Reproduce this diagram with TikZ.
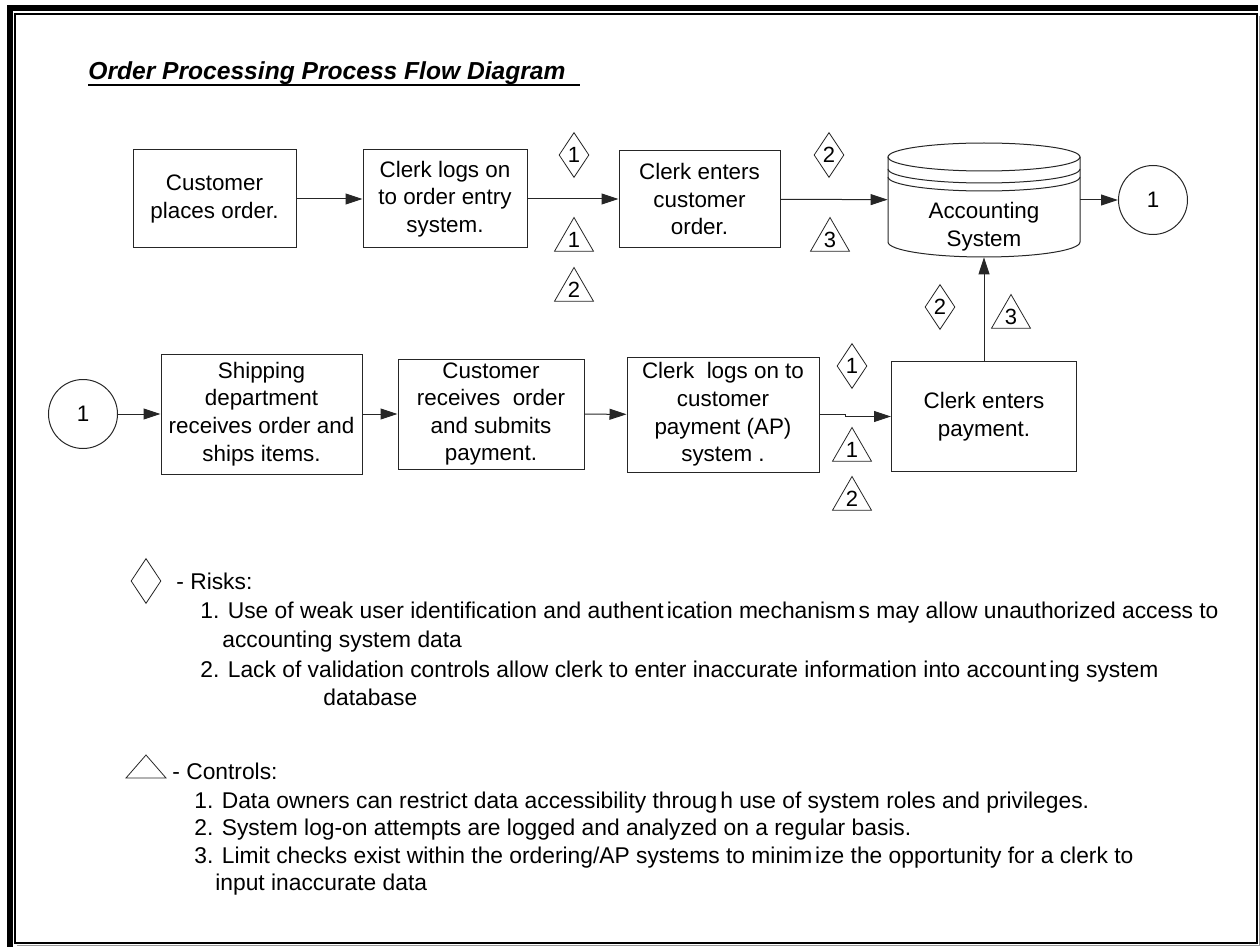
\documentclass[tikz,border=0pt]{standalone}
\usepackage{fontspec}
\setmainfont{Liberation Sans}
\usetikzlibrary{arrows.meta,positioning,shapes.geometric}

\newcommand{\wgap}{\kern1.5pt}

\tikzset{
  procbox/.style={draw=black!85, line width=0.5pt, align=center, inner sep=1pt,
    font=\fontsize{11.2}{13.8}\selectfont},
  link/.style={draw=black!85, line width=0.5pt, -{Triangle[length=8.5pt,width=5.5pt]}},
  risk/.style={draw=black!85, diamond, line width=0.4pt, inner sep=0pt,
    minimum width=15pt, minimum height=22.5pt, font=\fontsize{11}{13}\selectfont},
  ctrl/.style={draw=black!85, regular polygon, regular polygon sides=3, line width=0.4pt,
    inner sep=0pt, minimum size=22.5pt, font=\fontsize{11}{13}\selectfont},
  conn/.style={draw=black!85, circle, line width=0.5pt, minimum size=34.5pt,
    font=\fontsize{11.2}{13}\selectfont},
  legend/.style={anchor=base west, inner sep=0pt, font=\fontsize{11.4}{13.5}\selectfont},
}

\begin{document}
\begin{tikzpicture}[x=0.5pt, y=-0.5pt]
\useasboundingbox (0,0) rectangle (1260,947);

% frame
\fill (7,5) rectangle (13,947);
\fill (7,5) rectangle (1258,11);
\draw[line width=0.6pt] (15,14) rectangle (1257,943);
\draw[black!40, line width=0.8pt] (17,945.5) -- (1259.5,945.5) -- (1259.5,16);

% title
\node[anchor=base west, inner sep=0pt, font=\fontsize{12.3}{14}\selectfont\bfseries\itshape]
  (title) at (88,80) {Order Processing Process Flow Diagram};
\draw[line width=0.7pt] (88,85) -- (580,85);

% upper row
\node[procbox, minimum width=81.5pt, minimum height=49pt] (b1) at (214.5,199) {Customer\\places order.};
\node[procbox, minimum width=82pt, minimum height=49pt] (b2) at (445,199) {Clerk logs on\\to order entry\\system.};
\node[procbox, minimum width=80.5pt, minimum height=48.5pt] (b3) at (699.5,199) {Clerk enters\\customer\\order.};
\node[minimum width=96pt, minimum height=57pt, inner sep=0pt] (acc) at (984,200) {};
\draw[black!85, line width=0.5pt] (984,157) ellipse [x radius=48pt, y radius=7pt];
\draw[black!85, line width=0.5pt] (888,169) arc[start angle=180, end angle=360, x radius=48pt, y radius=7pt];
\draw[black!85, line width=0.5pt] (888,177) arc[start angle=180, end angle=360, x radius=48pt, y radius=7pt];
\draw[black!85, line width=0.5pt] (888,157) -- (888,242)
  arc[start angle=180, end angle=360, x radius=48pt, y radius=7.5pt] -- (1080,157);
\node[font=\fontsize{11.2}{13.8}\selectfont, align=center] (acclabel) at (984,227) {Accounting\\System};
\node[conn] (c1) at (1153,200) {1};

\draw[link] (b1) -- (b2);
\draw[link] (b2) -- (b3);
\draw[link] (b3) -- (acc);
\draw[link] (acc) -- (c1);

\node[risk] (rk1a) at (574,155) {1};
\node[ctrl] (ct1a) at (574,240) {1};
\node[ctrl] (ct2a) at (574,290) {2};
\node[risk] (rk2a) at (829,155) {2};
\node[ctrl] (ct3a) at (830,240) {3};

% lower row
\node[conn] (c2) at (83,414) {1};
\node[procbox, minimum width=100.5pt, minimum height=60pt] (b4) at (261.5,414) {Shipping\\department\\receives order and\\ships items.};
\node[procbox, minimum width=93pt, minimum height=55pt] (b5) at (491,414) {Customer\\receives\ \ order\\and submits\\payment.};
\node[procbox, minimum width=96pt, minimum height=57.5pt] (b6) at (723,414.5) {Clerk\ \ logs on to\\customer\\payment (AP)\\system .};
\node[procbox, minimum width=92.5pt, minimum height=55pt] (b7) at (984,416.5) {Clerk enters\\payment.};

\draw[link] (c2) -- (b4);
\draw[link] (b4) -- (b5);
\draw[link] (b5) -- (b6);
\draw[link] (b6.east) -- ++(26,0) |- (b7.west);
\draw[link] (b7) -- (acc);

\node[risk] (rk1b) at (852,366) {1};
\node[ctrl] (ct1b) at (852,450) {1};
\node[ctrl] (ct2b) at (852,499) {2};
\node[risk] (rk2b) at (940,307) {2};
\node[ctrl] (ct3b) at (1011,317) {3};

% key
\node[risk] (rkkey) at (146,581) {};
\node[legend] (risks) at (176,589) {- Risks:};
\node[legend] (r1) at (200,618) {1. Use of weak user identification and authent\wgap ication mechanism\wgap s may allow unauthorized access to};
\node[legend] (r1b) at (222,647) {accounting system data};
\node[legend] (r2) at (200,677) {2. Lack of validation controls allow clerk to enter inaccurate information into account\wgap ing system};
\node[legend] (r2b) at (323,705) {database};

\draw[black!85, line width=0.4pt] (126,778) -- (146,755) -- (166,778) -- cycle;
\node[legend] (ctrls) at (172,779) {- Controls:};
\node[legend] (k1) at (194,808) {1. Data owners can restrict data accessibility throug\wgap h use of system roles and privileges.};
\node[legend] (k2) at (194,835) {2. System log-on attempts are logged and analyzed on a regular basis.};
\node[legend] (k3) at (194,863) {3. Limit checks exist within the ordering/AP systems to minim\wgap ize the opportunity for a clerk to};
\node[legend] (k3b) at (215,890) {input inaccurate data};

\end{tikzpicture}
\end{document}
